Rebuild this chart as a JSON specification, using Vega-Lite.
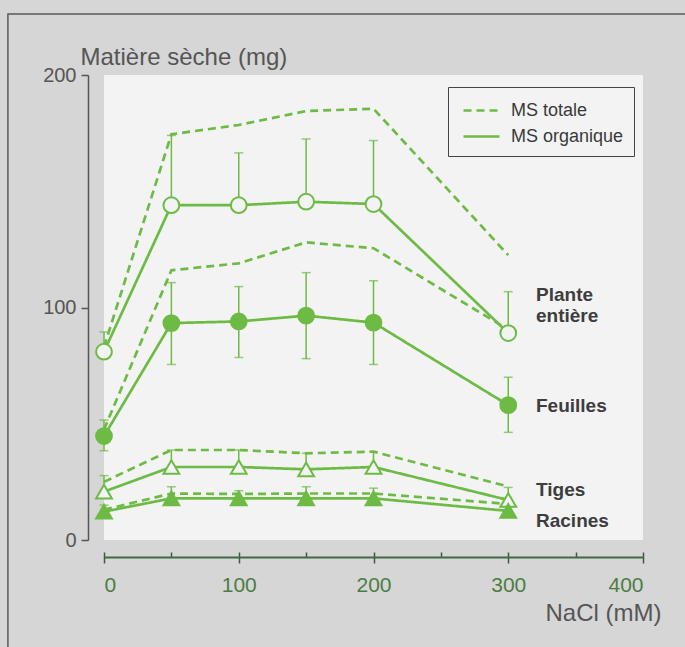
{
  "$schema": "https://vega.github.io/schema/vega-lite/v6.json",
  "width": 539,
  "height": 465,
  "autosize": "none",
  "padding": {"left": 104, "top": 75, "right": 42, "bottom": 107},
  "background": "#d6d6d6",
  "config": {"view": {"fill": "#f3f3f3", "stroke": null}, "font": "Liberation Sans"},
  "datasets": {
    "series": [
      {"organ": "Plante", "nacl": 0, "org": 81, "tot": 83, "up": 89.5, "lo": 81},
      {"organ": "Plante", "nacl": 50, "org": 144, "tot": 174.5, "up": 174, "lo": 144},
      {"organ": "Plante", "nacl": 100, "org": 144, "tot": 178.5, "up": 166.5, "lo": 144},
      {"organ": "Plante", "nacl": 150, "org": 145.5, "tot": 184.5, "up": 172.5, "lo": 145.5},
      {"organ": "Plante", "nacl": 200, "org": 144.5, "tot": 185.5, "up": 171.8, "lo": 144.5},
      {"organ": "Plante", "nacl": 300, "org": 89, "tot": 122.5, "up": 106.8, "lo": 89},
      {"organ": "Feuilles", "nacl": 0, "org": 44.7, "tot": 47.5, "up": 51.6, "lo": 38.4},
      {"organ": "Feuilles", "nacl": 50, "org": 93.3, "tot": 116, "up": 110.7, "lo": 75.5},
      {"organ": "Feuilles", "nacl": 100, "org": 94, "tot": 119, "up": 109, "lo": 78.5},
      {"organ": "Feuilles", "nacl": 150, "org": 96.5, "tot": 128, "up": 115, "lo": 78},
      {"organ": "Feuilles", "nacl": 200, "org": 93.5, "tot": 125.5, "up": 111.5, "lo": 75.5},
      {"organ": "Feuilles", "nacl": 300, "org": 58, "tot": 90.5, "up": 70, "lo": 46.3},
      {"organ": "Tiges", "nacl": 0, "org": 20.8, "tot": 25, "up": 27.7, "lo": 20.8},
      {"organ": "Tiges", "nacl": 50, "org": 31.4, "tot": 38.7, "up": 38.7, "lo": 31.4},
      {"organ": "Tiges", "nacl": 100, "org": 31.4, "tot": 38.7, "up": 38.7, "lo": 31.4},
      {"organ": "Tiges", "nacl": 150, "org": 30.4, "tot": 37.3, "up": 37.3, "lo": 30.4},
      {"organ": "Tiges", "nacl": 200, "org": 31.4, "tot": 38, "up": 38, "lo": 31.4},
      {"organ": "Tiges", "nacl": 300, "org": 17.2, "tot": 23, "up": 22.6, "lo": 17.2},
      {"organ": "Racines", "nacl": 0, "org": 12.2, "tot": 13, "up": 15, "lo": 12.2},
      {"organ": "Racines", "nacl": 50, "org": 17.9, "tot": 20, "up": 22.9, "lo": 17.9},
      {"organ": "Racines", "nacl": 100, "org": 17.9, "tot": 19.8, "up": 21.2, "lo": 17.9},
      {"organ": "Racines", "nacl": 150, "org": 17.9, "tot": 20, "up": 22.9, "lo": 17.9},
      {"organ": "Racines", "nacl": 200, "org": 17.9, "tot": 20, "up": 22.3, "lo": 17.9},
      {"organ": "Racines", "nacl": 300, "org": 12.5, "tot": 15.5, "up": 15.5, "lo": 12.5}
    ],
    "labels": [
      {"text": "Plante\nentière", "nacl": 320.6, "val": 105.4},
      {"text": "Feuilles", "nacl": 320.6, "val": 57.6},
      {"text": "Tiges", "nacl": 320.6, "val": 21.5},
      {"text": "Racines", "nacl": 320.6, "val": 8.2}
    ]
  },
  "resolve": {"axis": {"x": "independent", "y": "independent"}},
  "layer": [
    {
      "data": {"values": [{}]},
      "mark": {"type": "rect", "filled": false, "stroke": "#5a5a5a", "strokeWidth": 1.5, "clip": false},
      "encoding": {
        "x": {"datum": -71.3, "type": "quantitative", "scale": {"domain": [0, 400], "nice": false}, "axis": null},
        "x2": {"datum": 432},
        "y": {"datum": 226.2, "type": "quantitative", "scale": {"domain": [0, 200], "nice": false}, "axis": null},
        "y2": {"datum": -60}
      }
    },
    {
      "data": {"name": "series"},
      "transform": [{"fold": ["tot", "org"], "as": ["type", "value"]}],
      "mark": {"type": "line", "strokeWidth": 2.7, "color": "#6dbb45"},
      "encoding": {
        "x": {"field": "nacl", "type": "quantitative", "scale": {"domain": [0, 400], "nice": false},
          "axis": {"orient": "bottom", "offset": 12, "values": [0, 100, 200, 300, 400], "domain": false, "tickSize": 11, "tickColor": "#3d5a3d", "tickWidth": 1.5, "labelFontSize": 21, "labelColor": "#4b7d43", "labelPadding": 11, "grid": false, "title": null}},
        "y": {"field": "value", "type": "quantitative", "scale": {"domain": [0, 200], "nice": false},
          "axis": {"orient": "left", "offset": 16, "values": [0, 100, 200], "tickSize": 7, "tickColor": "#555555", "tickWidth": 1.5, "domainColor": "#555555", "domainWidth": 1.5, "labelFontSize": 20, "labelColor": "#555555", "labelPadding": 5, "grid": false,
            "title": "Matière sèche (mg)", "titleAngle": 0, "titleAlign": "left", "titleBaseline": "alphabetic", "titleX": -8, "titleY": -11, "titleFontSize": 24, "titleFontWeight": "normal", "titleColor": "#555555"}},
        "detail": {"field": "organ"},
        "strokeDash": {"field": "type", "type": "nominal", "scale": {"domain": ["tot", "org"], "range": [[8, 5], [1, 0]]},
          "legend": {"orient": "none", "legendX": 344, "legendY": 12, "title": null,
            "labelExpr": "datum.value == 'tot' ? 'MS totale' : 'MS organique'",
            "labelFontSize": 18, "labelColor": "#3a3a3a", "symbolType": "M-1.5,0H1.5", "symbolStrokeColor": "#6dbb45", "symbolStrokeWidth": 2.5, "symbolSize": 576,
            "symbolOffset": 10, "labelOffset": 16,
            "strokeColor": "#444444", "fillColor": "#f3f3f3", "padding": 10, "rowPadding": 3, "cornerRadius": 0}}
      }
    },
    {
      "data": {"name": "series"},
      "mark": {"type": "rule", "strokeWidth": 1.5, "color": "#6dbb45"},
      "encoding": {
        "x": {"field": "nacl", "type": "quantitative", "scale": {"domain": [0, 400], "nice": false},
          "axis": {"orient": "bottom", "offset": 12, "values": [50, 150, 250, 350], "domain": false, "tickSize": 5, "tickColor": "#3d5a3d", "tickWidth": 1.5, "labels": false, "grid": false, "title": null}},
        "y": {"field": "lo", "type": "quantitative", "scale": {"domain": [0, 200], "nice": false}, "axis": null},
        "y2": {"field": "up"}
      }
    },
    {
      "data": {"name": "series"},
      "mark": {"type": "tick", "orient": "horizontal", "size": 9, "thickness": 1.5, "color": "#6dbb45"},
      "encoding": {
        "x": {"field": "nacl", "type": "quantitative", "scale": {"domain": [0, 400], "nice": false}, "axis": null},
        "y": {"field": "up", "type": "quantitative", "scale": {"domain": [0, 200], "nice": false}, "axis": null}
      }
    },
    {
      "data": {"name": "series"},
      "transform": [{"filter": "datum.organ == 'Feuilles'"}],
      "mark": {"type": "tick", "orient": "horizontal", "size": 9, "thickness": 1.5, "color": "#6dbb45"},
      "encoding": {
        "x": {"field": "nacl", "type": "quantitative", "scale": {"domain": [0, 400], "nice": false}, "axis": null},
        "y": {"field": "lo", "type": "quantitative", "scale": {"domain": [0, 200], "nice": false}, "axis": null}
      }
    },
    {
      "data": {"name": "series"},
      "mark": {"type": "point", "filled": true, "stroke": "#6dbb45", "strokeWidth": 2, "opacity": 1},
      "encoding": {
        "x": {"field": "nacl", "type": "quantitative", "scale": {"domain": [0, 400], "nice": false},
          "axis": {"orient": "bottom", "offset": 17, "domain": true, "domainColor": "#3f6b3f", "domainWidth": 2, "ticks": false, "labels": false, "grid": false,
            "title": "NaCl (mM)", "titleAnchor": "end", "titleAlign": "right", "titleX": 557, "titleY": 63, "titleBaseline": "alphabetic", "titleFontSize": 24, "titleFontWeight": "normal", "titleColor": "#555555"}},
        "y": {"field": "org", "type": "quantitative", "scale": {"domain": [0, 200], "nice": false}, "axis": null},
        "shape": {"field": "organ", "type": "nominal", "scale": {"domain": ["Plante", "Feuilles", "Tiges", "Racines"], "range": ["circle", "circle", "triangle-up", "triangle-up"]}, "legend": null},
        "size": {"field": "organ", "type": "nominal", "scale": {"domain": ["Plante", "Feuilles", "Tiges", "Racines"], "range": [250, 250, 300, 300]}, "legend": null},
        "fill": {"field": "organ", "type": "nominal", "scale": {"domain": ["Plante", "Feuilles", "Tiges", "Racines"], "range": ["#f3f3f3", "#6dbb45", "#f3f3f3", "#6dbb45"]}, "legend": null}
      }
    },
    {
      "data": {"name": "labels"},
      "mark": {"type": "text", "align": "left", "baseline": "middle", "fontSize": 19, "fontWeight": "bold", "color": "#3d3d3d", "lineBreak": "\n", "lineHeight": 21},
      "encoding": {
        "x": {"field": "nacl", "type": "quantitative", "scale": {"domain": [0, 400], "nice": false}, "axis": null},
        "y": {"field": "val", "type": "quantitative", "scale": {"domain": [0, 200], "nice": false}, "axis": null},
        "text": {"field": "text"}
      }
    }
  ]
}
